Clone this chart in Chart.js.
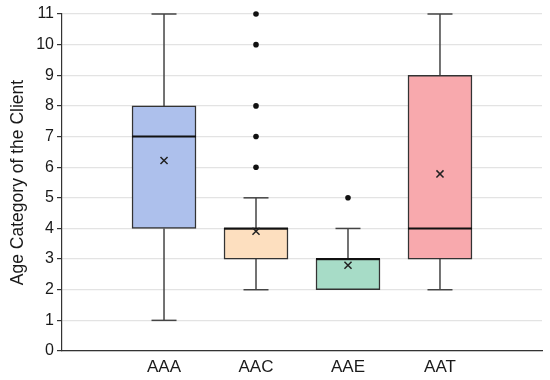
<!DOCTYPE html>
<html>
<head>
<meta charset="utf-8">
<script src="https://cdn.jsdelivr.net/npm/chart.js@4/dist/chart.umd.min.js"></script>
<style>
html,body{margin:0;padding:0;background:#fff;}
canvas{display:block;}
</style>
</head>
<body>
<canvas id="c" width="550" height="380" style="width:550px;height:380px;"></canvas>
<script>
// Data
const categories = ['AAA', 'AAC', 'AAE', 'AAT'];
const whiskerLow  = [1, 2, 2, 2];
const q1          = [4, 3, 2, 3];
const median      = [7, 4, 3, 4];
const q3          = [8, 4, 3, 9];
const whiskerHigh = [11, 5, 4, 11];
const means       = [6.22, 3.91, 2.80, 5.78];
const outliers    = [[], [6, 7, 8, 10, 11], [5], []];
const yTicks      = [0,1,2,3,4,5,6,7,8,9,10,11];
const boxColors   = ['#adc0ec', '#fddfbf', '#a7dcc7', '#f8a9ad'];

const FONT = "'Liberation Sans', Arial, Helvetica, sans-serif";

const boxData = categories.map((c, i) => ({x: i, y: [q1[i], q3[i]]}));
const meanData = categories.map((c, i) => ({x: i, y: means[i]}));
const outlierData = [];
outliers.forEach((arr, i) => arr.forEach(v => outlierData.push({x: i, y: v})));

const boxPlugin = {
  id: 'boxParts',
  beforeDatasetsDraw(chart) {
    const ctx = chart.ctx, xs = chart.scales.x, ys = chart.scales.y;
    ctx.save();
    ctx.strokeStyle = '#444';
    ctx.lineWidth = 1.5;
    categories.forEach((c, i) => {
      const x = xs.getPixelForValue(i);
      const cap = 12.5;
      if (whiskerHigh[i] > q3[i]) {
        ctx.beginPath();
        ctx.moveTo(x, ys.getPixelForValue(q3[i]));
        ctx.lineTo(x, ys.getPixelForValue(whiskerHigh[i]));
        ctx.stroke();
        const yy = ys.getPixelForValue(whiskerHigh[i]);
        ctx.beginPath();
        ctx.moveTo(x - cap, yy); ctx.lineTo(x + cap, yy);
        ctx.stroke();
      }
      if (whiskerLow[i] < q1[i]) {
        ctx.beginPath();
        ctx.moveTo(x, ys.getPixelForValue(q1[i]));
        ctx.lineTo(x, ys.getPixelForValue(whiskerLow[i]));
        ctx.stroke();
        const yy = ys.getPixelForValue(whiskerLow[i]);
        ctx.beginPath();
        ctx.moveTo(x - cap, yy); ctx.lineTo(x + cap, yy);
        ctx.stroke();
      }
    });
    ctx.restore();
  },
  afterDatasetDraw(chart, args) {
    if (args.index !== 0) return;
    const ctx = chart.ctx, xs = chart.scales.x, ys = chart.scales.y;
    const meta = chart.getDatasetMeta(0);
    ctx.save();
    ctx.strokeStyle = '#111';
    ctx.lineWidth = 2;
    categories.forEach((c, i) => {
      const half = meta.data[i].width / 2;
      const x = xs.getPixelForValue(i);
      const y = ys.getPixelForValue(median[i]);
      ctx.beginPath();
      ctx.moveTo(x - half, y); ctx.lineTo(x + half, y);
      ctx.stroke();
    });
    ctx.restore();
  }
};

new Chart(document.getElementById('c'), {
  type: 'bar',
  data: {
    datasets: [
      {
        type: 'bar',
        data: boxData,
        backgroundColor: boxColors,
        borderColor: '#333',
        borderWidth: 1.5,
        borderSkipped: false,
        barThickness: 64,
        order: 3
      },
      {
        type: 'scatter',
        data: outlierData,
        pointStyle: 'circle',
        pointRadius: 2.8,
        backgroundColor: '#111',
        borderColor: '#111',
        borderWidth: 0,
        clip: false,
        order: 1
      },
      {
        type: 'scatter',
        data: meanData,
        pointStyle: 'crossRot',
        pointRadius: 5,
        borderColor: '#222',
        borderWidth: 1.5,
        clip: false,
        order: 2
      }
    ]
  },
  options: {
    responsive: false,
    animation: false,
    devicePixelRatio: 1,
    layout: {padding: {top: 14, right: 8, left: 0, bottom: 0}},
    plugins: {legend: {display: false}, tooltip: {enabled: false}},
    scales: {
      x: {
        type: 'linear',
        offset: false,
        min: -1.109,
        max: 4.109,
        afterBuildTicks(scale) {
          scale.ticks = categories.map((c, i) => ({value: i}));
        },
        afterFit(scale) { scale.height = 29; },
        ticks: {
          autoSkip: false,
          maxRotation: 0,
          padding: 6,
          color: '#1a1a1a',
          font: {family: FONT, size: 17},
          callback: (v) => categories[v] !== undefined ? categories[v] : ''
        },
        grid: {display: false, drawTicks: false, offset: false},
        border: {display: true, color: '#333', width: 1.2}
      },
      y: {
        type: 'linear',
        min: 0,
        max: 11,
        afterBuildTicks(scale) {
          scale.ticks = yTicks.map(v => ({value: v}));
        },
        afterFit(scale) { scale.width = 62; },
        ticks: {
          autoSkip: false,
          padding: 3,
          color: '#1a1a1a',
          font: {family: FONT, size: 16}
        },
        grid: {color: '#e3e3e3', lineWidth: 1.2, tickLength: 5, tickColor: '#333'},
        border: {display: true, color: '#333', width: 1.2},
        title: {
          display: true,
          text: 'Age Category of the Client',
          color: '#1a1a1a',
          font: {family: FONT, size: 17.5},
          padding: {top: 8, bottom: 0}
        }
      }
    }
  },
  plugins: [boxPlugin]
});
</script>
</body>
</html>
